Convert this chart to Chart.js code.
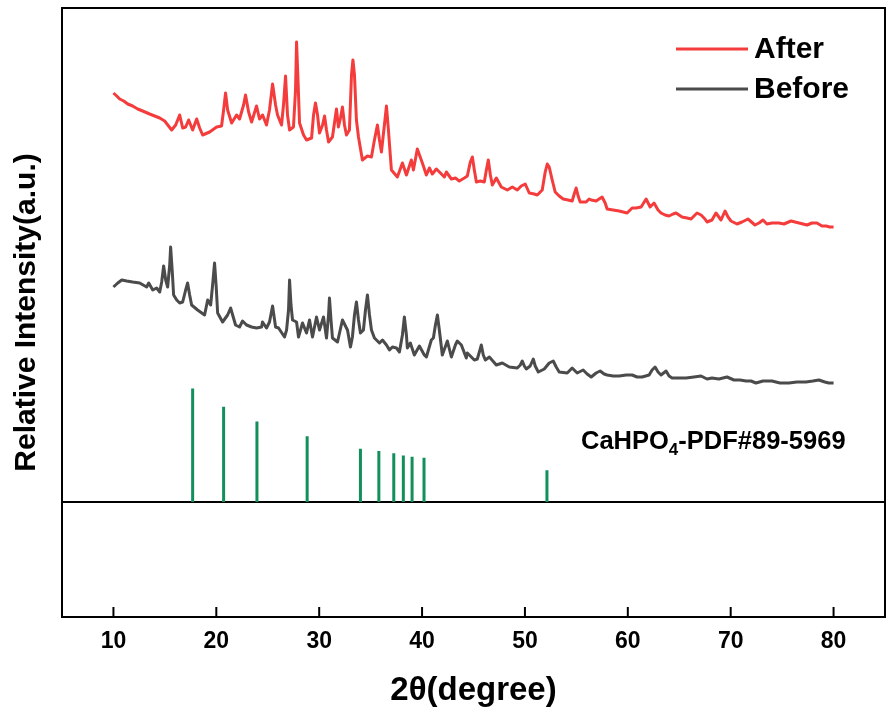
<!DOCTYPE html>
<html lang="en">
<head>
<meta charset="UTF-8">
<title>XRD pattern</title>
<script src="https://cdn.jsdelivr.net/npm/chart.js@4.4.0/dist/chart.umd.min.js"></script>
<style>
  html, body { margin: 0; padding: 0; background: #fff; }
  #wrap { width: 888px; height: 713px; }
</style>
</head>
<body>
<div id="wrap"><canvas id="plot" width="888" height="713"></canvas></div>
<script>
// 2theta (degree) and relative intensity (a.u.)
const afterX = [10.0,10.32,10.61,11.0,11.39,11.87,12.36,12.84,13.52,14.01,
  14.50,14.98,15.66,16.05,16.44,16.73,17.02,17.31,17.70,18.09,
  18.38,18.67,19.35,20.03,20.51,20.71,20.90,21.10,21.49,21.97,
  22.26,22.65,22.84,23.14,23.43,23.91,24.20,24.50,24.88,25.17,
  25.47,25.76,25.95,26.34,26.53,26.73,26.92,27.12,27.50,27.70,
  27.80,27.94,28.09,28.48,28.77,29.26,29.45,29.64,29.84,30.03,
  30.33,30.52,30.71,30.91,31.29,31.68,31.87,32.07,32.26,32.46,
  32.65,32.94,33.14,33.28,33.43,33.62,33.82,34.20,34.69,35.08,
  35.37,35.66,35.86,36.05,36.34,36.54,36.73,37.02,37.60,38.09,
  38.48,38.96,39.16,39.54,40.03,40.42,40.71,41.00,41.39,41.69,
  42.17,42.36,42.85,43.24,43.62,44.11,44.40,44.69,44.89,45.08,
  45.28,45.67,46.05,46.25,46.44,46.64,46.83,47.22,47.70,48.29,
  48.77,49.26,49.64,50.03,50.42,50.90,51.20,51.68,51.97,52.17,
  52.36,52.65,52.94,53.33,53.72,54.20,54.59,54.79,54.98,55.17,
  55.37,55.95,56.24,56.44,56.92,57.21,57.50,57.80,57.99,58.57,
  59.16,59.55,59.93,60.42,60.81,61.29,61.78,62.17,62.55,62.94,
  63.23,63.62,64.01,64.40,64.69,65.27,65.76,66.15,66.53,66.73,
  67.12,67.50,67.70,68.18,68.57,69.06,69.45,69.74,70.03,70.61,
  71.10,71.68,72.36,72.75,73.14,73.52,74.01,74.69,75.18,75.86,
  76.64,77.42,77.90,78.38,78.87,79.26,79.64,80.0];
const afterY = [524,521,518,516,513,511,508,506,503,501,
  499,496,487,492,502,489,490,497,487,498,
  489,482,485,490,491,507,524,507,494,502,
  498,512,522,505,495,511,498,502,492,507,
  533,512,502,492,512,541,502,487,490,527,
  575,537,494,482,477,479,502,514,502,484,
  492,501,487,475,480,508,490,499,510,492,
  482,487,542,557,542,497,480,457,461,460,
  477,492,477,465,492,511,487,447,440,454,
  442,457,447,468,454,442,449,443,448,445,
  440,445,438,439,436,439,441,455,460,447,
  435,436,435,447,457,442,432,439,430,427,
  430,427,431,433,424,423,422,427,445,453,
  450,437,425,421,418,417,416,423,429,421,
  415,415,418,417,416,418,420,414,408,407,
  406,405,404,409,409,410,418,410,414,407,
  404,402,401,403,404,400,399,398,402,404,
  402,398,395,397,404,397,406,400,396,393,
  395,398,392,394,397,393,394,394,393,396,
  394,392,394,394,391,391,390,390];

const beforeX = [10.0,10.42,10.81,11.29,11.87,12.55,13.23,13.43,13.82,14.20,
  14.50,14.69,14.88,15.08,15.27,15.47,15.56,15.71,15.85,16.15,
  16.44,16.73,17.02,17.21,17.41,17.60,18.18,18.86,19.16,19.45,
  19.64,19.83,19.98,20.13,20.61,21.10,21.39,21.87,22.26,22.55,
  22.94,23.43,23.91,24.40,24.49,24.88,25.17,25.47,25.76,26.05,
  26.63,26.83,27.02,27.12,27.26,27.41,27.80,27.99,28.38,28.77,
  29.06,29.35,29.74,30.03,30.42,30.71,30.91,31.00,31.15,31.29,
  31.78,32.26,32.75,33.04,33.23,33.43,33.62,33.82,34.01,34.30,
  34.50,34.69,34.89,35.08,35.37,35.86,36.15,36.54,36.83,37.12,
  37.51,37.80,38.09,38.28,38.48,38.57,38.86,39.25,39.74,40.22,
  40.42,40.90,41.10,41.30,41.49,41.68,41.97,42.46,42.85,43.24,
  43.43,43.82,44.30,44.40,45.08,45.37,45.57,45.76,45.95,46.15,
  46.54,47.22,47.80,48.48,49.26,49.55,49.74,49.94,50.13,50.51,
  50.81,51.00,51.30,51.88,52.36,52.75,53.04,53.33,54.11,54.59,
  55.08,55.66,56.05,56.44,56.92,57.31,57.70,57.99,58.57,59.16,
  59.84,60.42,60.90,61.39,62.07,62.36,62.65,62.94,63.23,63.72,
  64.01,64.30,64.98,65.66,66.43,67.12,67.70,68.18,68.86,69.64,
  70.32,70.90,71.49,71.97,72.46,73.14,74.01,74.79,75.66,76.43,
  77.31,77.99,78.57,79.15,79.54,80.0];
const beforeY = [330,334,337,336,335,334,330,334,327,329,
  325,335,351,337,330,352,370,347,322,317,
  314,315,327,334,322,312,307,302,317,312,
  332,354,332,304,295,302,309,292,290,296,
  292,290,289,290,295,289,295,311,290,289,
  280,287,307,337,312,297,295,280,294,284,
  297,280,300,287,300,279,302,319,297,279,
  275,297,287,270,280,302,315,297,284,287,
  307,322,302,287,279,274,277,272,267,270,
  269,265,282,300,282,269,274,262,271,262,
  260,277,279,292,302,287,262,276,260,272,
  276,272,259,264,257,258,265,272,262,257,
  260,252,254,250,249,252,256,251,248,251,
  258,251,245,248,254,256,250,245,244,249,
  244,247,243,240,244,246,243,242,241,241,
  242,242,240,240,242,247,250,245,242,246,
  241,239,239,239,240,241,238,239,238,240,
  237,237,236,236,234,236,236,234,234,235,
  235,236,237,235,234,234];

// CaHPO4 reference pattern, PDF#89-5969 (relative intensity, %)
const refPos = [17.70,20.71,23.95,28.83,34.01,35.80,37.25,38.18,39.03,40.19,52.14];
const refInt = [100,84,71,58,47,45,43,41,40,39,28];

const xTicks = [10,20,30,40,50,60,70,80];

// reference sticks sit on the divider line
const refBase = 115;
const refScale = 1.134;

const FONT = "'Liberation Sans', Arial, sans-serif";
const RED = '#f43c3c';
const GREY = '#4b4b4b';
const GREEN = '#11905c';

const points = (xs, ys) => xs.map((x, i) => ({ x, y: ys[i] }));

const sticks = [];
refPos.forEach((p, i) => {
  sticks.push({ x: p, y: refBase }, { x: p, y: refBase + refInt[i] * refScale }, { x: p, y: null });
});

// box around the plot + inward ticks on the bottom axis
const frame = {
  id: 'frame',
  afterDatasetsDraw(chart) {
    const { ctx, chartArea: a, scales: { x } } = chart;
    ctx.save();
    ctx.strokeStyle = '#000';
    ctx.lineWidth = 2;
    ctx.strokeRect(a.left, a.top, a.right - a.left, a.bottom - a.top);
    x.ticks.forEach(t => {
      const px = x.getPixelForValue(t.value);
      ctx.beginPath();
      ctx.moveTo(px, a.bottom);
      ctx.lineTo(px, a.bottom - 10);
      ctx.stroke();
    });
    ctx.restore();
  }
};

// legend and phase label
const labels = {
  id: 'labels',
  afterDraw(chart) {
    const { ctx, chartArea: a, scales: { x, y } } = chart;
    ctx.save();
    ctx.fillStyle = '#000';
    ctx.textBaseline = 'middle';
    ctx.font = `bold 30px ${FONT}`;
    [0, 1].forEach(i => {
      const ds = chart.data.datasets[i];
      const ly = a.top + 41 + i * 40;
      ctx.strokeStyle = ds.borderColor;
      ctx.lineWidth = 3;
      ctx.beginPath();
      ctx.moveTo(a.right - 209, ly);
      ctx.lineTo(a.right - 137, ly);
      ctx.stroke();
      ctx.fillText(ds.label, a.right - 131, ly + 1);
    });

    let lx = x.getPixelForValue(55.45);
    const ly = y.getPixelForValue(175);
    ctx.font = `bold 25.5px ${FONT}`;
    ctx.fillText('CaHPO', lx, ly);
    lx += ctx.measureText('CaHPO').width;
    ctx.font = `bold 17px ${FONT}`;
    ctx.fillText('4', lx, ly + 8);
    lx += ctx.measureText('4').width;
    ctx.font = `bold 25.5px ${FONT}`;
    ctx.fillText('-PDF#89-5969', lx, ly);
    ctx.restore();
  }
};

new Chart(document.getElementById('plot'), {
  type: 'line',
  data: {
    datasets: [
      { label: 'After', data: points(afterX, afterY), borderColor: RED, borderWidth: 3,
        pointRadius: 0, borderJoinStyle: 'round' },
      { label: 'Before', data: points(beforeX, beforeY), borderColor: GREY, borderWidth: 3,
        pointRadius: 0, borderJoinStyle: 'round' },
      { label: 'CaHPO4-PDF#89-5969', data: sticks, borderColor: GREEN, borderWidth: 3,
        pointRadius: 0, spanGaps: false },
      { label: 'divider', data: [{ x: 5, y: refBase }, { x: 85, y: refBase }], borderColor: '#000',
        borderWidth: 2, pointRadius: 0 }
    ]
  },
  options: {
    responsive: false,
    animation: false,
    layout: { padding: { top: 8, right: 3, left: 0, bottom: 0 } },
    plugins: { legend: { display: false }, tooltip: { enabled: false } },
    scales: {
      x: {
        type: 'linear', min: 5, max: 85,
        afterBuildTicks: s => { s.ticks = xTicks.map(v => ({ value: v })); },
        afterFit: s => { s.height = 96; },
        grid: { display: false, drawTicks: false },
        border: { display: false },
        ticks: { padding: 11, color: '#000', font: { family: FONT, size: 23, weight: 'bold' } },
        title: { display: true, text: '2θ(degree)', color: '#000', padding: { top: 0, bottom: 2 },
          font: { family: FONT, size: 33, weight: 'bold' } }
      },
      y: {
        min: 0, max: 609,
        afterFit: s => { s.width = 62; },
        grid: { display: false },
        border: { display: false },
        ticks: { display: false },
        title: { display: true, text: 'Relative Intensity(a.u.)', color: '#000', padding: { top: 9, bottom: 0 },
          font: { family: FONT, size: 30, weight: 'bold' } }
      }
    }
  },
  plugins: [frame, labels]
});
</script>
</body>
</html>
